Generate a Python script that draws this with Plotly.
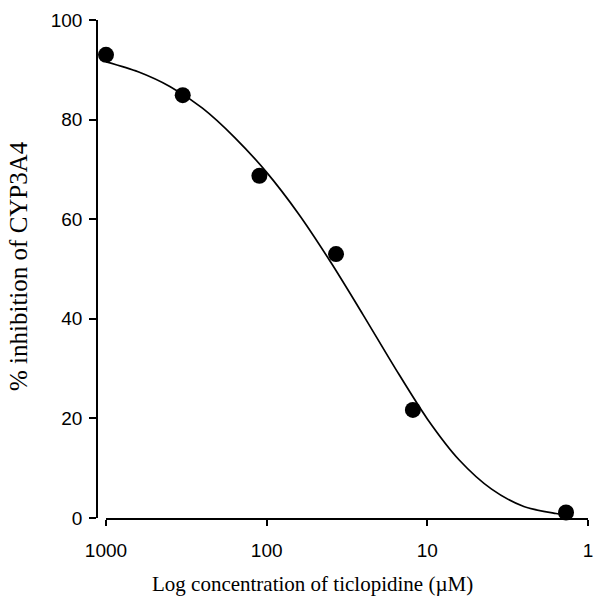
import plotly.graph_objects as go

# Measured data points (concentration in µM, % inhibition)
conc = [1000, 333, 111, 37, 12.3, 1.37]
inhibition = [93.0, 84.9, 68.7, 53.0, 21.7, 1.1]

# Fitted curve
fit_conc = [1000, 631, 398, 251, 158, 100, 63.1, 39.8, 25.1, 15.8, 10, 6.31, 3.98, 2.51, 1.58, 1.37]
fit_inhib = [91.6, 89.6, 86.6, 82.3, 76.4, 69.4, 61.0, 51.3, 40.8, 30.0, 19.9, 11.6, 5.8, 2.3, 0.9, 0.6]

x_tickvals = [1000, 100, 10, 1]
x_ticktext = ["1000", "100", "10", "1"]
y_tickvals = [0, 20, 40, 60, 80, 100]

x_title = "Log concentration of ticlopidine (\u00b5M)"
y_title = "% inhibition of CYP3A4"

tick_font = dict(family="Arial, Liberation Sans, sans-serif", size=19, color="black")
title_font_x = dict(family="Times New Roman, Liberation Serif, serif", size=21, color="black")
title_font_y = dict(family="Times New Roman, Liberation Serif, serif", size=25, color="black")

fig = go.Figure()
fig.add_trace(go.Scatter(
    x=fit_conc, y=fit_inhib, mode="lines",
    line=dict(color="black", width=1.7, shape="spline", smoothing=0.8),
    hoverinfo="skip", showlegend=False, cliponaxis=False,
))
fig.add_trace(go.Scatter(
    x=conc, y=inhibition, mode="markers",
    marker=dict(color="black", size=16, line=dict(width=0)),
    showlegend=False, cliponaxis=False,
))

L, R, T, B = 97, 6, 20, 88
W, H = 594, 606
pw = W - L - R
ph = H - T - B

fig.update_layout(
    template="none",
    width=W, height=H,
    margin=dict(l=L, r=R, t=T, b=B, pad=0),
    paper_bgcolor="white", plot_bgcolor="white",
    xaxis=dict(
        type="log", range=[3, 0], domain=[(106 - L) / pw, 1],
        showline=True, linecolor="black", linewidth=1.5,
        ticks="outside", ticklen=6, tickwidth=1.5, tickcolor="black",
        tickvals=x_tickvals, ticktext=x_ticktext, tickfont=tick_font,
        showgrid=False, zeroline=False, automargin=False,
        ticklabelstandoff=8, ticklabeloverflow="allow",
    ),
    yaxis=dict(
        range=[0, 100], anchor="free", position=0,
        showline=True, linecolor="black", linewidth=1.5,
        ticks="outside", ticklen=7, tickwidth=1.5, tickcolor="black",
        tickvals=y_tickvals, tickfont=tick_font,
        showgrid=False, zeroline=False, automargin=False,
        ticklabelstandoff=3,
    ),
    annotations=[
        dict(text=x_title, xref="paper", yref="paper",
             x=(312 - L) / pw, y=(518 - 584) / ph,
             xanchor="center", yanchor="middle", showarrow=False, font=title_font_x),
        dict(text=y_title, xref="paper", yref="paper",
             x=(18 - L) / pw, y=(518 - 266) / ph, textangle=-90,
             xanchor="center", yanchor="middle", showarrow=False, font=title_font_y),
    ],
)

fig.write_html(
    "out.html",
    config={"displayModeBar": False},
    post_script="document.body.style.margin='0';document.body.style.overflow='hidden';",
)
